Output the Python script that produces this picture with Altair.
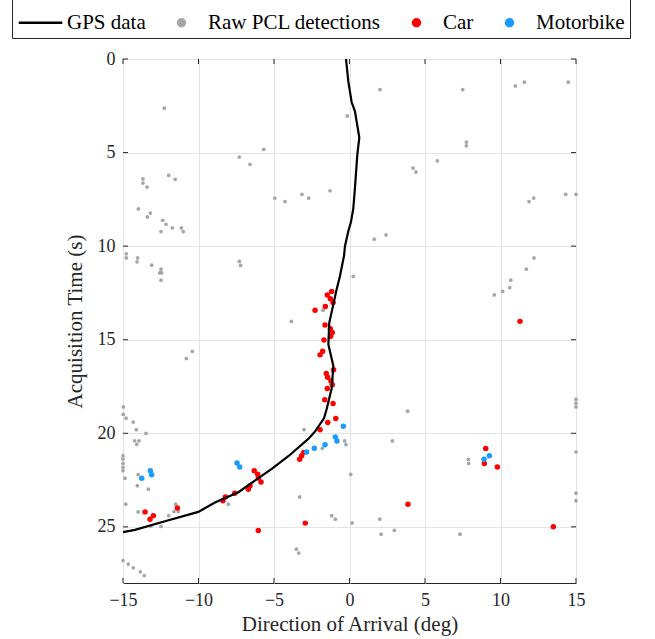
import altair as alt
import pandas as pd

# GPS track (deg, time)
gps_deg = [-0.23, -0.08, 0.14, 0.36, 0.65, 0.52, 0.36, 0.25, 0.10, -0.08, -0.30, -0.36, -0.63, -0.85,
           -1.34, -1.40, -1.07, -1.18, -1.51, -1.69, -2.28, -2.73, -4.01, -5.15, -7.36, -8.91, -10.01,
           -12.22, -14.21, -15.0]
gps_t = [0.0, 1.2, 2.3, 2.8, 4.2, 5.1, 6.9, 8.0, 8.7, 9.2, 10.0, 10.5, 11.6, 12.3,
         14.1, 15.25, 16.4, 17.6, 18.7, 19.2, 19.9, 20.3, 21.2, 21.9, 23.15, 23.7, 24.2,
         24.7, 25.16, 25.28]

raw_deg = [-12.26, -5.68, -7.30, -6.59, -11.97, -11.54, -13.68, -13.68, -13.41, -4.95, -4.27, -3.15,
           -2.70, -1.29, -13.98, -13.19, -13.39, -12.37, -12.15, -11.73, -11.14, -11.01, -12.48,
           -14.78, -14.78, -14.03, -14.07, -13.10, -12.48, -12.57, -12.44, -12.48, -7.30, -7.21,
           -3.85, -1.75, -10.41, -10.81, 2.02, -0.15, 7.50, 10.98, 11.58, 14.49, 7.74, 7.74, 5.82,
           4.21, 4.40, 11.89, 12.20, 14.32, 15.0, 2.42, 1.64, 0.25, 12.22, 11.71, 10.68, 10.61,
           10.14, 9.59, 15.0, 15.0, 15.0, 3.85, -0.32, -0.23, 2.84, 15.0, 7.87, 7.89, 0.08, 15.0,
           15.0, 2.0, 0.17, 2.09, 2.97, 7.32, -14.98, -14.98, -14.80, -14.32, -14.12, -13.48,
           -14.23, -13.94, -14.09, -15.0, -15.0, -15.0, -15.0, -15.0, -14.87, -14.0, -14.05,
           -13.32, -14.82, -11.51, -11.34, -11.62, -11.97, -14.0, -13.15, -12.48, -8.02, -3.30,
           -3.01, -1.80, -1.18, -0.94, -3.52, -3.36, -15.0, -14.65, -14.32, -13.85, -13.59]
raw_t = [2.63, 4.83, 5.24, 5.63, 6.22, 6.43, 6.41, 6.63, 6.84, 7.43, 7.62, 7.23,
         7.43, 7.04, 8.01, 8.23, 8.44, 8.62, 8.83, 9.03, 9.03, 9.22, 9.22,
         10.41, 10.63, 10.63, 10.84, 11.02, 11.23, 11.43, 11.43, 11.82, 10.82, 11.03,
         14.02, 13.42, 15.62, 16.01, 1.63, 3.04, 1.63, 1.44, 1.24, 1.24, 4.44, 4.64, 5.44,
         5.83, 6.04, 7.62, 7.43, 7.23, 7.23, 9.40, 9.63, 11.62, 10.63, 11.23, 11.82, 12.22,
         12.42, 12.61, 18.18, 18.39, 18.59, 18.82, 20.41, 20.61, 20.41, 21.0, 21.39, 21.61, 22.19, 23.2,
         23.6, 24.59, 24.79, 25.39, 25.19, 25.39, 18.59, 18.99, 19.19, 19.40, 19.81, 20.01,
         20.40, 20.40, 20.59, 21.2, 21.38, 21.61, 21.82, 22.0, 22.4, 22.21, 22.80,
         22.99, 23.79, 23.79, 24.18, 24.18, 24.40, 24.20, 24.96, 24.98, 23.79, 23.40,
         19.81, 20.80, 24.40, 24.59, 26.19, 26.40, 26.8, 26.99, 27.19, 27.40, 27.60]

car_deg = [-1.18, -1.47, -1.27, -1.09, -1.60, -2.28, -1.62, -1.27, -1.14, -1.25, -1.69, -1.78, -1.95,
           -1.05, -1.54, -1.45, -1.23, -1.14, -1.47, -1.64, -1.09, -0.91, -1.44, -1.95, -3.03, -3.17,
           -3.30, -6.31, -6.08, -6.04, -5.86, -6.59, -6.70, -7.60, -8.22, -8.38, -11.40, -13.54,
           -12.99, -13.21, -2.93, -6.04, 11.29, 9.02, 8.93, 9.79, 3.87, 13.50]
car_t = [12.42, 12.61, 12.81, 13.01, 13.22, 13.42, 14.21, 14.41, 14.62, 14.82, 15.01, 15.62, 15.81,
         16.61, 16.81, 17.00, 17.20, 17.41, 17.61, 18.21, 18.41, 19.21, 19.42, 19.81, 21.02, 21.2,
         21.39, 22.0, 22.19, 22.39, 22.60, 22.80, 22.99, 23.20, 23.40, 23.60, 23.99, 24.20,
         24.40, 24.59, 24.80, 25.19, 14.02, 20.81, 21.61, 21.80, 23.79, 25.0]

moto_deg = [-0.41, -0.94, -0.83, -1.62, -2.33, -2.84, -7.45, -7.27, -13.19, -13.10, -13.76, 9.26, 8.91]
moto_t = [19.62, 20.2, 20.41, 20.61, 20.80, 21.0, 21.59, 21.80, 22.0, 22.21, 22.4, 21.2, 21.39]

categories = ["GPS data", "Raw PCL detections", "Car", "Motorbike"]
x_ticks = [-15, -10, -5, 0, 5, 10, 15]
y_ticks = [0, 5, 10, 15, 20, 25]

gps = pd.DataFrame({"deg": gps_deg, "t": gps_t, "cat": "GPS data", "ord": range(len(gps_t))})
raw = pd.DataFrame({"deg": raw_deg, "t": raw_t, "cat": "Raw PCL detections"})
det = pd.concat([
    pd.DataFrame({"deg": car_deg, "t": car_t, "cat": "Car"}),
    pd.DataFrame({"deg": moto_deg, "t": moto_t, "cat": "Motorbike"}),
])
xt = pd.DataFrame({"deg": x_ticks})
yt = pd.DataFrame({"t": y_ticks})

FONT = "Liberation Serif"
xscale = alt.Scale(domain=[-15, 15], nice=False, zero=False)
yscale = alt.Scale(domain=[0, 28], nice=False, zero=False, reverse=True)

CIRC = "M -0.16 0 A 0.16 0.16 0 1 0 0.16 0 A 0.16 0.16 0 1 0 -0.16 0 Z"
LINE = "M -1 0 L 1 0"

legend = alt.Legend(
    title=None, orient="none", legendX=-111, legendY=-65, direction="horizontal",
    fillColor="white", strokeColor="#262626", padding=5, labelFont=FONT, labelFontSize=21,
    labelColor="black", labelLimit=400, symbolSize=1900, columnPadding=12, labelOffset=3,
    symbolType={"expr": f"datum.value === 'GPS data' ? '{LINE}' : '{CIRC}'"},
    symbolStrokeColor={"expr": "datum.value === 'GPS data' ? '#000000' : 'transparent'"},
    symbolStrokeWidth=2.5, symbolOpacity=1,
)
color = alt.Color("cat:N", scale=alt.Scale(domain=categories,
                  range=["#000000", "#a6a6a6", "#ff0000", "#1a9bff"]), legend=legend)

x_axis = alt.Axis(values=x_ticks, title="Direction of Arrival (deg)", grid=True, gridColor="#e3e3e3",
                  domain=False, ticks=False, labelFont=FONT, labelFontSize=18, labelColor="#262626",
                  labelPadding=8, titleFont=FONT, titleFontSize=21, titleFontWeight="normal",
                  titleColor="#262626", titlePadding=4, labelFlush=False)
y_axis = alt.Axis(values=y_ticks, title="Acquisition Time (s)", grid=True, gridColor="#e3e3e3",
                  domain=False, ticks=False, labelFont=FONT, labelFontSize=18, labelColor="#262626",
                  labelPadding=8, titleFont=FONT, titleFontSize=21, titleFontWeight="normal",
                  titleColor="#262626", titlePadding=12, labelFlush=False)

base_x = alt.X("deg:Q", scale=xscale, axis=x_axis)
base_y = alt.Y("t:Q", scale=yscale, axis=y_axis)

raw_layer = alt.Chart(raw).mark_circle(size=14, opacity=1).encode(x=base_x, y=base_y, color=color)
det_layer = alt.Chart(det).mark_circle(size=30, opacity=1).encode(x=base_x, y=base_y, color=color)
line_layer = alt.Chart(gps).mark_line(strokeWidth=2.2).encode(
    x=base_x, y=base_y, color=color, order="ord:Q")

tick_style = dict(color="#262626", strokeWidth=1)
xt_bottom = alt.Chart(xt).mark_rule(**tick_style).encode(
    x=base_x, y=alt.value(524), y2=alt.value(519))
xt_top = alt.Chart(xt).mark_rule(**tick_style).encode(
    x=base_x, y=alt.value(0), y2=alt.value(5))
yt_left = alt.Chart(yt).mark_rule(**tick_style).encode(
    y=base_y, x=alt.value(0), x2=alt.value(5))
yt_right = alt.Chart(yt).mark_rule(**tick_style).encode(
    y=base_y, x=alt.value(448), x2=alt.value(453))

chart = alt.layer(raw_layer, det_layer, line_layer, xt_bottom, xt_top, yt_left, yt_right).properties(
    width=453, height=524,
    autosize=alt.AutoSizeParams(type="none"),
    padding={"left": 123, "top": 59, "right": 79, "bottom": 56},
).configure(font=FONT).configure_view(stroke="#262626", strokeWidth=1).configure_legend(
    labelFont=FONT, labelFontSize=21, labelLimit=400
).configure_axis(labelFont=FONT, titleFont=FONT)

chart.save("out.html", embed_options={"renderer": "svg", "actions": False})
